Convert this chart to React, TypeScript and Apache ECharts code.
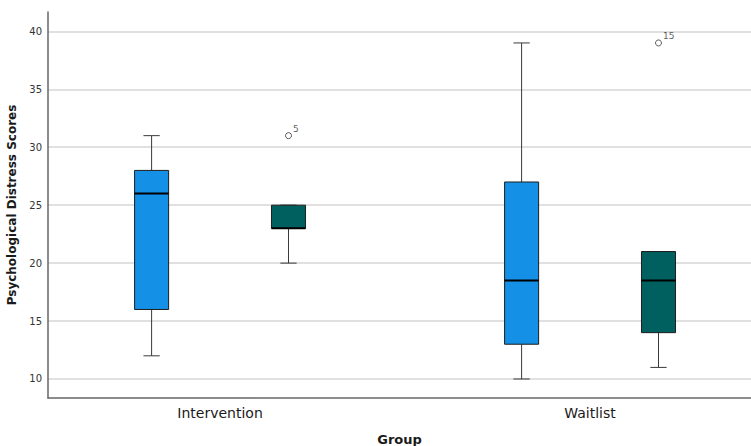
import React, { useEffect, useRef } from "react";
import * as echarts from "echarts";

const groups = ["Intervention", "Waitlist"];
const yTicks = [10, 15, 20, 25, 30, 35, 40];
// five-number summaries per group: [min, Q1, median, Q3, max]
const blueStats = [
  [12, 16, 26, 28, 31],
  [10, 13, 18.5, 27, 39],
];
const greenStats = [
  [20, 23, 23, 25, 25],
  [11, 14, 18.5, 21, 21],
];
// outliers: group index, series index (0 blue, 1 green), value, case label
const outlierGroup = [0, 1];
const outlierSeries = [1, 1];
const outlierValue = [31, 39];
const outlierLabel = ["5", "15"];

const seriesColors = ["#1490e6", "#005f5f"];
const seriesOffsets = [-0.185, 0.185];
const BOX_HALF = 0.046;
const CAP_HALF = 0.022;
const FONT = "DejaVu Sans";

function boxData(stats: number[][], sIdx: number) {
  return stats.map((s, g) => [g + seriesOffsets[sIdx], ...s]);
}

function makeRender(color: string) {
  return (params: any, api: any) => {
    const x = api.value(0);
    const mn = api.value(1);
    const q1 = api.value(2);
    const med = api.value(3);
    const q3 = api.value(4);
    const mx = api.value(5);
    const pMin = api.coord([x, mn]);
    const pQ1 = api.coord([x, q1]);
    const pMed = api.coord([x, med]);
    const pQ3 = api.coord([x, q3]);
    const pMax = api.coord([x, mx]);
    const left = api.coord([x - BOX_HALF, q1])[0];
    const right = api.coord([x + BOX_HALF, q1])[0];
    const capL = api.coord([x - CAP_HALF, q1])[0];
    const capR = api.coord([x + CAP_HALF, q1])[0];
    const cx = pMed[0];
    const whisk = { stroke: "#3a3a3a", lineWidth: 1 };
    return {
      type: "group",
      children: [
        { type: "line", shape: { x1: cx, y1: pMax[1], x2: cx, y2: pQ3[1] }, style: whisk },
        { type: "line", shape: { x1: cx, y1: pQ1[1], x2: cx, y2: pMin[1] }, style: whisk },
        { type: "line", shape: { x1: capL, y1: pMax[1], x2: capR, y2: pMax[1] }, style: whisk },
        { type: "line", shape: { x1: capL, y1: pMin[1], x2: capR, y2: pMin[1] }, style: whisk },
        {
          type: "rect",
          shape: { x: left, y: pQ3[1], width: right - left, height: pQ1[1] - pQ3[1] },
          style: { fill: color, stroke: "#1e1e1e", lineWidth: 1 },
        },
        {
          type: "line",
          shape: { x1: left, y1: pMed[1], x2: right, y2: pMed[1] },
          style: { stroke: "#000", lineWidth: 2 },
        },
      ],
    };
  };
}

export default function App() {
  const ref = useRef<HTMLDivElement>(null);
  useEffect(() => {
    if (!ref.current) return;
    const chart = echarts.init(ref.current, null, { renderer: "svg" });
    const outliers = outlierValue.map((v, i) => ({
      value: [outlierGroup[i] + seriesOffsets[outlierSeries[i]], v],
      label: { formatter: outlierLabel[i] },
    }));
    chart.setOption({
      animation: false,
      backgroundColor: "#ffffff",
      grid: {
        left: 48,
        right: 0,
        top: 12,
        bottom: 48,
        containLabel: false,
        outerBoundsMode: "none",
      },
      xAxis: {
        type: "value",
        min: -0.465,
        max: 1.435,
        name: "Group",
        nameLocation: "middle",
        nameGap: 35,
        nameTextStyle: { fontFamily: FONT, fontSize: 13, fontWeight: "bold", color: "#1a1a1a" },
        axisLine: { show: true, onZero: false, lineStyle: { color: "#666", width: 1.5 } },
        axisTick: { show: false },
        splitLine: { show: false },
        axisLabel: {
          customValues: [0, 1],
          formatter: (v: number) => groups[Math.round(v)] ?? "",
          fontFamily: FONT,
          fontSize: 14,
          color: "#1a1a1a",
          margin: 8,
        },
      },
      yAxis: {
        type: "value",
        min: 8.36,
        max: 41.67,
        name: "Psychological Distress Scores",
        nameLocation: "middle",
        nameGap: 23,
        nameTextStyle: { fontFamily: FONT, fontSize: 12, fontWeight: "bold", color: "#1a1a1a" },
        axisLine: { show: true, onZero: false, lineStyle: { color: "#666", width: 1.5 } },
        axisTick: { show: false },
        splitLine: { show: false },
        axisLabel: {
          customValues: yTicks,
          fontFamily: FONT,
          fontSize: 10,
          color: "#333",
          margin: 6,
        },
      },
      series: [
        {
          type: "scatter",
          data: [],
          z: 0,
          silent: true,
          markLine: {
            silent: true,
            z: 0,
            symbol: ["none", "none"],
            label: { show: false },
            lineStyle: { color: "#d6d6d6", width: 1.5, type: "solid" },
            data: yTicks.map((v) => ({ yAxis: v })),
          },
        },
        {
          type: "custom",
          z: 2,
          renderItem: makeRender(seriesColors[0]),
          encode: { x: 0, y: [1, 2, 3, 4, 5] },
          data: boxData(blueStats, 0),
        },
        {
          type: "custom",
          z: 2,
          renderItem: makeRender(seriesColors[1]),
          encode: { x: 0, y: [1, 2, 3, 4, 5] },
          data: boxData(greenStats, 1),
        },
        {
          type: "scatter",
          z: 3,
          symbol: "circle",
          symbolSize: 6,
          itemStyle: { color: "#ffffff", borderColor: "#333", borderWidth: 1 },
          label: {
            show: true,
            position: [8, -8],
            fontFamily: FONT,
            fontSize: 9,
            color: "#333",
          },
          data: outliers,
        },
      ],
    });
    return () => chart.dispose();
  }, []);
  return (
    <div
      ref={ref}
      style={{ position: "fixed", left: 0, top: 0, width: 751, height: 446 }}
    />
  );
}
